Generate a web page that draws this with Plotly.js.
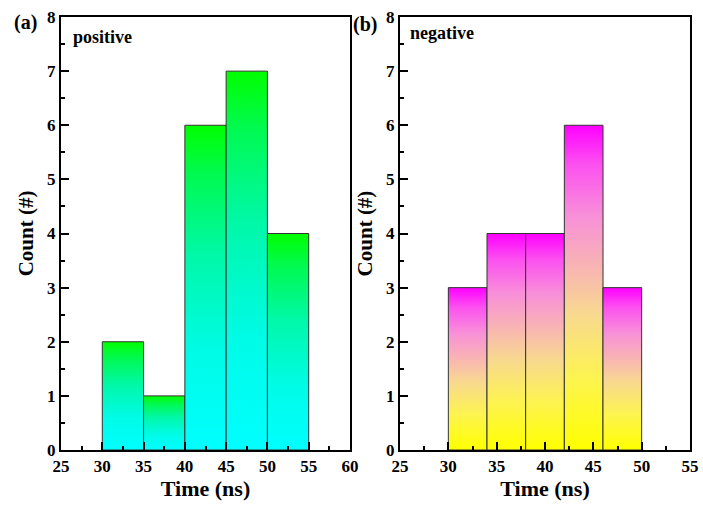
<!DOCTYPE html>
<html>
<head>
<meta charset="utf-8">
<script src="https://cdn.plot.ly/plotly-3.0.1.min.js"></script>
<style>html,body{margin:0;padding:0;background:#fff;}#chart{width:703px;height:505px;}</style>
</head>
<body>
<div id="chart"></div>
<script>
// Panel (a): positive
const edgesA = [30, 35, 40, 45, 50, 55];
const countsA = [2, 1, 6, 7, 4];
// Panel (b): negative
const edgesB = [30, 34, 38, 42, 46, 50];
const countsB = [3, 4, 4, 6, 3];
const xTicksA = [25, 30, 35, 40, 45, 50, 55, 60];
const xTicksB = [25, 30, 35, 40, 45, 50, 55];
const yTicks = [0, 1, 2, 3, 4, 5, 6, 7, 8];

const FONT = 'Liberation Serif, Times New Roman, serif';

const scaleA = [[0, '#00ffff'], [0.3, '#00fbe6'], [0.6, '#00f8a8'], [0.85, '#00fa50'], [1, '#00ff00']];
const scaleB = [[0, '#ffff00'], [0.22, '#fdf450'], [0.42, '#f8d890'], [0.55, '#f8b8b0'], [0.72, '#f890d8'], [0.88, '#fc50f0'], [1, '#ff00ff']];

function barTraces(edges, counts, xa, ya, scale) {
  const traces = [];
  for (let i = 0; i < counts.length; i++) {
    const x0 = edges[i], x1 = edges[i + 1], h = counts[i];
    traces.push({
      type: 'scatter', mode: 'lines',
      x: [x0, x0, x1, x1, x0], y: [0, h, h, 0, 0],
      xaxis: xa, yaxis: ya,
      fill: 'toself',
      fillgradient: {type: 'vertical', colorscale: scale},
      line: {color: '#333333', width: 1},
      hoverinfo: 'skip', showlegend: false
    });
  }
  return traces;
}

const data = [
  ...barTraces(edgesA, countsA, 'x', 'y', scaleA),
  ...barTraces(edgesB, countsB, 'x2', 'y2', scaleB)
];

const TICKFONT = {family: FONT, size: 17, color: '#000', weight: 700};

function xAxis(domain, range, ticks, anchor) {
  return {
    domain: domain, range: range, anchor: anchor,
    tickmode: 'array', tickvals: ticks, ticktext: ticks.map(String),
    ticks: 'inside', ticklen: 8, tickwidth: 2, tickcolor: '#000',
    minor: {dtick: 2.5, tick0: 0, ticks: 'inside', ticklen: 4, tickwidth: 2, tickcolor: '#000'},
    showline: true, linecolor: '#000', linewidth: 2, mirror: true,
    showgrid: false, zeroline: false,
    tickfont: TICKFONT,
    title: {text: 'Time (ns)', font: {family: FONT, size: 22, color: '#000', weight: 700}, standoff: 2}
  };
}
function yAxis(domain, anchor) {
  return {
    domain: domain, range: [0, 8], anchor: anchor,
    tickmode: 'array', tickvals: yTicks, ticktext: yTicks.map(String),
    ticks: 'inside', ticklen: 8, tickwidth: 2, tickcolor: '#000',
    minor: {dtick: 0.5, tick0: 0, ticks: 'inside', ticklen: 4, tickwidth: 2, tickcolor: '#000'},
    showline: true, linecolor: '#000', linewidth: 2, mirror: true,
    showgrid: false, zeroline: false,
    tickfont: TICKFONT,
    title: {text: 'Count (#)', font: {family: FONT, size: 21, color: '#000', weight: 700}, standoff: 8}
  };
}

const yDom = [55 / 505, 488 / 505];
const layout = {
  width: 703, height: 505,
  margin: {l: 0, r: 0, t: 0, b: 0},
  font: {family: FONT, size: 17, color: '#000', weight: 700},
  paper_bgcolor: '#fff', plot_bgcolor: '#fff',
  xaxis: xAxis([61 / 703, 350 / 703], [25, 60], xTicksA, 'y'),
  yaxis: yAxis(yDom, 'x'),
  xaxis2: xAxis([400 / 703, 690 / 703], [25, 55], xTicksB, 'y2'),
  yaxis2: yAxis(yDom, 'x2'),
  annotations: [
    {text: '<b>(a)</b>', xref: 'paper', yref: 'paper', x: 12 / 703, y: 1 - 22 / 505, xanchor: 'left', yanchor: 'middle', showarrow: false, font: {family: FONT, size: 20, color: '#000'}},
    {text: '<b>(b)</b>', xref: 'paper', yref: 'paper', x: 351 / 703, y: 1 - 24 / 505, xanchor: 'left', yanchor: 'middle', showarrow: false, font: {family: FONT, size: 20, color: '#000'}},
    {text: '<b>positive</b>', xref: 'paper', yref: 'paper', x: 71 / 703, y: 1 - 37 / 505, xanchor: 'left', yanchor: 'middle', showarrow: false, font: {family: FONT, size: 18, color: '#000'}},
    {text: '<b>negative</b>', xref: 'paper', yref: 'paper', x: 408 / 703, y: 1 - 33 / 505, xanchor: 'left', yanchor: 'middle', showarrow: false, font: {family: FONT, size: 18, color: '#000'}}
  ]
};

Plotly.newPlot('chart', data, layout, {displayModeBar: false, staticPlot: true});
</script>
</body>
</html>
